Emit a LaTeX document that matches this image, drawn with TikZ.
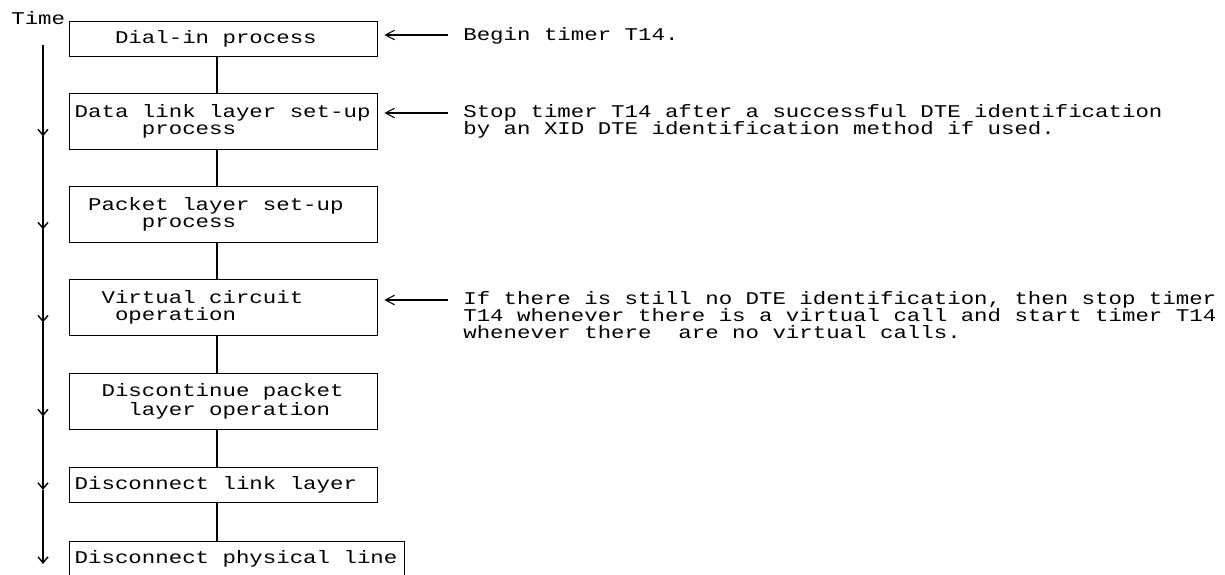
\documentclass[tikz,border=0pt]{standalone}
\usepackage{fontspec}
\setmonofont[FakeStretch=1.25]{Liberation Mono}
\usetikzlibrary{arrows.meta,positioning}
\lineskiplimit=-\maxdimen
\newcommand{\pad}[1]{\hspace*{#1\fontcharwd\font`x}}
\newcommand{\fixedspaces}{\spaceskip=0pt\xspaceskip=0pt\relax}

\begin{document}
\begin{tikzpicture}[
  font=\ttfamily\fontsize{10.2}{9.4}\selectfont,
  stage/.style={
    draw,
    line width=0.8pt,
    anchor=north west,
    text width=5.96cm,
    inner xsep=0.1cm,
    minimum height=0.7cm,
    execute at begin node=\fixedspaces
  },
  tallstage/.style={
    stage,
    minimum height=1.11cm
  },
  note/.style={
    anchor=base west,
    align=left,
    inner sep=0pt
  },
  link/.style={
    line width=0.8pt
  },
  pointer/.style={
    -{Straight Barb[length=1.8mm,width=1.9mm]},
    line width=0.6pt,
    shorten >=0.12cm
  },
  timeline/.style={
    -{Straight Barb[length=1.2mm,width=2mm]},
    line width=0.8pt
  }
]

\useasboundingbox (0,0) rectangle (24.5,-11.48);
\clip (0,0) rectangle (24.5,-11.48);

%-----------------------------
% Stages of the call
%-----------------------------
\node[stage]     (b1) at (1.38,-0.42)  {\pad{3}Dial-in process};
\node[tallstage] (b2) at (1.38,-1.86)  {Data link layer set-up\\\pad{5}process};
\node[tallstage] (b3) at (1.38,-3.72)  {\pad{1}Packet layer set-up\\\pad{5}process};
\node[tallstage] (b4) at (1.38,-5.58)  {\pad{2}Virtual circuit\\\pad{3}operation};
\node[tallstage] (b5) at (1.38,-7.46)  {\pad{2}Discontinue packet\\\pad{4}layer operation};
\node[stage]     (b6) at (1.38,-9.34)  {Disconnect link layer};
\node[stage, text width=6.50cm] (b7) at (1.38,-10.82) {Disconnect physical line};

\coordinate (spine) at (4.34,0);
\foreach \i [count=\j from 2] in {1,...,6}
  \draw[link] (spine |- b\i.south) -- (spine |- b\j.north);

%-----------------------------
% Time axis
%-----------------------------
\node[note] (time) at (0.22,-0.48) {Time};
\coordinate (t0) at (0.86,-0.90);

\draw[timeline] (t0) -- ([yshift=0.27cm]t0 |- b2.south);
\foreach \i [count=\j from 3] in {2,...,6}
  \draw[timeline] ([yshift=0.27cm]t0 |- b\i.south) -- ([yshift=0.27cm]t0 |- b\j.south);

%-----------------------------
% Timer notes
%-----------------------------
\node[note] (n1) at (9.26,-0.80) {Begin timer T14.};
\node[note] (n2) at (9.26,-2.69) {Stop timer T14 after a successful DTE identification\\by an XID DTE identification method if used.};
\node[note] (n3) at (9.26,-6.76) {If there is still no DTE identification, then stop timer\\T14 whenever there is a virtual call and start timer T14\\whenever there~ are no virtual calls.};

\draw[pointer] ([xshift=-0.3cm,yshift=0.1cm]n1.base west) coordinate (p1) -- (p1 -| b1.east);
\draw[pointer] ([xshift=-0.3cm,yshift=0.43cm]n2.base west) coordinate (p2) -- (p2 -| b2.east);
\draw[pointer] ([xshift=-0.3cm,yshift=0.76cm]n3.base west) coordinate (p3) -- (p3 -| b4.east);

\end{tikzpicture}
\end{document}
